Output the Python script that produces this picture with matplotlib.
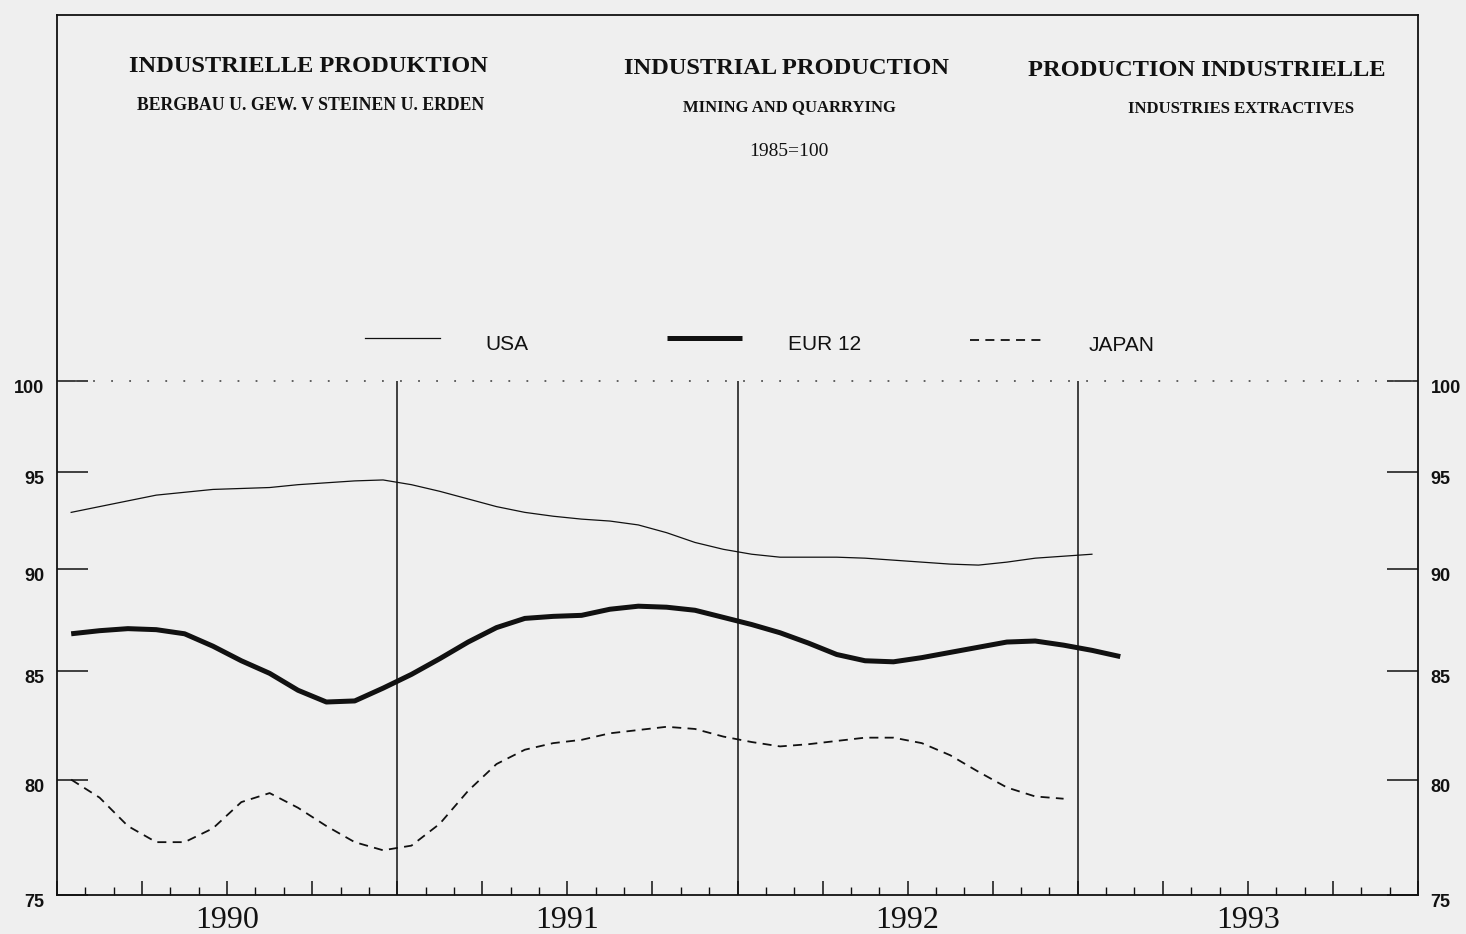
import matplotlib
matplotlib.use("Agg")
import matplotlib.pyplot as plt
from matplotlib.ticker import FixedLocator, NullLocator, MultipleLocator, FixedFormatter
from matplotlib.transforms import ScaledTranslation
import numpy as np

# monthly index values, 1985=100, starting January 1990
usa = [92.9, 93.2, 93.5, 93.8, 93.95, 94.1, 94.15, 94.2, 94.35, 94.45, 94.55, 94.6,
       94.35, 94.0, 93.6, 93.2, 92.9, 92.7, 92.55, 92.45, 92.25, 91.85, 91.35, 91.0,
       90.75, 90.6, 90.6, 90.6, 90.55, 90.45, 90.35, 90.25, 90.2, 90.35, 90.55, 90.65,
       90.75]
eur12 = [86.8, 86.95, 87.05, 87.0, 86.8, 86.2, 85.5, 84.9, 84.1, 83.55, 83.6, 84.2,
         84.85, 85.6, 86.4, 87.1, 87.55, 87.65, 87.7, 88.0, 88.15, 88.1, 87.95, 87.6,
         87.25, 86.85, 86.35, 85.8, 85.5, 85.45, 85.65, 85.9, 86.15, 86.4, 86.45, 86.25,
         86.0, 85.7]
japan = [80.0, 79.2, 77.95, 77.25, 77.25, 77.85, 79.0, 79.4, 78.75, 77.95, 77.25, 76.9,
         77.1, 78.05, 79.5, 80.7, 81.35, 81.65, 81.8, 82.1, 82.25, 82.4, 82.3, 81.95,
         81.7, 81.5, 81.6, 81.75, 81.9, 81.9, 81.65, 81.1, 80.35, 79.65, 79.25, 79.15]

years = ["1990", "1991", "1992", "1993"]
y_ticks = [75, 80, 85, 90, 95, 100]

bg = "#efefef"
ink = "#111111"
W, H = 1466, 934

fig = plt.figure(figsize=(W / 100, H / 100), dpi=100, facecolor=bg)
ax = fig.add_axes([57 / W, 1 - 895 / H, 1361 / W, 880 / H])
ax.set_facecolor(bg)

ax.set_yscale("log")
ax.set_ylim(75, 122.7)
ax.set_xlim(0, 48)

x_usa = np.arange(len(usa)) + 0.5
x_eur = np.arange(len(eur12)) + 0.5
x_jap = np.arange(len(japan)) + 0.5

ax.plot(x_usa, usa, color=ink, lw=0.9)
ax.plot(x_eur, eur12, color=ink, lw=3.6, solid_capstyle="butt")
ax.plot(x_jap, japan, color=ink, lw=1.3, dashes=(5, 3.5))

# 100 reference line and year separators
ax.axhline(100, color="#555555", lw=1.3, ls=(0, (1, 9)))
ax.vlines([12, 24, 36], 75, 100, color=ink, lw=1.1)

# y axis ticks on both sides
ax.yaxis.set_major_locator(FixedLocator(y_ticks))
ax.yaxis.set_major_formatter(FixedFormatter([str(t) for t in y_ticks]))
ax.yaxis.set_minor_locator(NullLocator())
ax.tick_params(axis="y", which="major", direction="in", length=22, width=1.1,
               left=True, right=True, labelleft=True, labelright=True,
               labelsize=13, colors=ink, pad=9)
shift = ScaledTranslation(0, -4 / 72, fig.dpi_scale_trans)
for t in ax.yaxis.get_major_ticks():
    for lab in (t.label1, t.label2):
        lab.set_family("Liberation Sans")
        lab.set_weight("bold")
        lab.set_transform(lab.get_transform() + shift)

# months along the bottom, longer ticks at quarters
ax.xaxis.set_major_locator(MultipleLocator(3))
ax.xaxis.set_minor_locator(MultipleLocator(1))
ax.tick_params(axis="x", which="major", direction="in", length=10, width=1.1,
               top=False, labelbottom=False, colors=ink)
ax.tick_params(axis="x", which="minor", direction="in", length=5.5, width=1.0,
               top=False, colors=ink)

for s in ax.spines.values():
    s.set_linewidth(1.3)
    s.set_color(ink)

xt = ax.get_xaxis_transform()
for i, yr in enumerate(years):
    ax.text(12 * i + 6, -0.029, yr, transform=xt, ha="center", va="center",
            fontsize=23, family="Liberation Serif", color=ink)


def label(px, py, s, size, bold=True):
    fig.text(px / W, 1 - py / H, s, fontsize=size, family="Liberation Serif",
             weight="bold" if bold else "normal", color=ink, ha="center", va="center")


# titles in the three languages
label(308, 66, "INDUSTRIELLE PRODUKTION", 17.6)
label(311, 105, "BERGBAU U. GEW. V STEINEN U. ERDEN", 12.8)
label(786, 68, "INDUSTRIAL PRODUCTION", 17.6)
label(789, 107, "MINING AND QUARRYING", 12)
label(789, 151, "1985=100", 14, bold=False)
label(1207, 70, "PRODUCTION INDUSTRIELLE", 17.6)
label(1241, 109, "INDUSTRIES EXTRACTIVES", 12)

# legend row
ta = ax.transAxes
ax.plot([0.2263, 0.2814], [0.633, 0.633], color=ink, lw=0.9, transform=ta)
ax.plot([0.4482, 0.5033], [0.633, 0.633], color=ink, lw=3.6, transform=ta,
        solid_capstyle="butt")
ax.plot([0.6708, 0.7259], [0.6307, 0.6307], color=ink, lw=1.3, dashes=(5, 3.5),
        transform=ta)
lfont = dict(family="Liberation Sans", fontsize=15, color=ink, ha="left",
             va="center", transform=ta)
ax.text(0.3145, 0.626, "USA", **lfont)
ax.text(0.5371, 0.625, "EUR 12", **lfont)
ax.text(0.7583, 0.624, "JAPAN", **lfont)

fig.savefig("out.png", dpi=100, facecolor=bg)
